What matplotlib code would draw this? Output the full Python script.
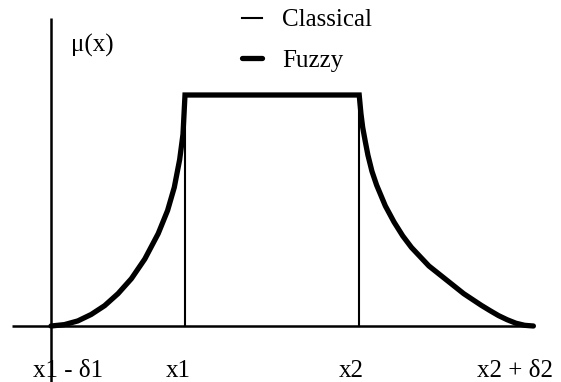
import matplotlib
matplotlib.use("Agg")
import matplotlib.pyplot as plt

plt.rcParams['font.family'] = ['Liberation Serif', 'DejaVu Serif']

# key points on the x axis (data units)
x_lo, x1, x2, x_hi = 0.0, 1.0, 2.3, 3.6

# fuzzy membership
left_x = [0.0, 0.1, 0.2, 0.3, 0.4, 0.5, 0.6, 0.7, 0.8, 0.87, 0.92, 0.96, 0.985, 1.0]
left_mu = [0.0, 0.006, 0.022, 0.05, 0.088, 0.14, 0.205, 0.29, 0.4, 0.5, 0.6, 0.72, 0.83, 1.0]
right_x = [2.3, 2.313, 2.326, 2.345, 2.365, 2.395, 2.43, 2.495, 2.56, 2.625, 2.69,
           2.755, 2.82, 2.885, 2.95, 3.015, 3.08, 3.145, 3.21, 3.275, 3.34,
           3.405, 3.47, 3.535, 3.6]
right_mu = [1.0, 0.92, 0.86, 0.8, 0.74, 0.67, 0.61, 0.52, 0.45, 0.39, 0.34,
            0.30, 0.26, 0.23, 0.2, 0.17, 0.14, 0.115, 0.09, 0.067, 0.045,
            0.027, 0.012, 0.003, 0.0]

# classical (crisp) set
crisp_x = [x1, x1, x2, x2]
crisp_mu = [0.0, 1.0, 1.0, 0.0]

tick_labels = ['x1 - \u03b41', 'x1', 'x2', 'x2 + \u03b42']
tick_pos = [x_lo, x1, x2, x_hi]
label_shift = [0.13, -0.05, -0.06, -0.14]

fig = plt.figure(figsize=(5.61, 3.82), dpi=100)
ax = fig.add_axes([0, 0, 1, 1])
ax.set_xlim(-0.3806, 3.806)
ax.set_ylim(-0.2424, 1.4113)
ax.axis('off')

# axes drawn by hand
ax.hlines(0, -0.29, x_hi, color='black', lw=1.8)
ax.vlines(x_lo, -0.25, 1.333, color='black', lw=1.8)

classical, = ax.plot(crisp_x, crisp_mu, color='black', lw=1.5, label='Classical')
fuzzy, = ax.plot(left_x + right_x, left_mu + right_mu, color='black', lw=3.8,
                 solid_joinstyle='miter', solid_capstyle='round', label='Fuzzy')

for pos, shift, lab in zip(tick_pos, label_shift, tick_labels):
    ax.text(pos + shift, -0.195, lab, ha='center', va='center', fontsize=18)

ax.text(0.15, 1.216, '\u03bc(x)', ha='left', va='center', fontsize=18)

ax.legend(handles=[classical, fuzzy], loc='upper left',
          bbox_to_anchor=(242 / 561, 1 - 9 / 382), frameon=False,
          borderpad=0, borderaxespad=0, handlelength=0.8, handletextpad=0.8,
          labelspacing=0.7, fontsize=18)

fig.savefig('out.png', dpi=100)
